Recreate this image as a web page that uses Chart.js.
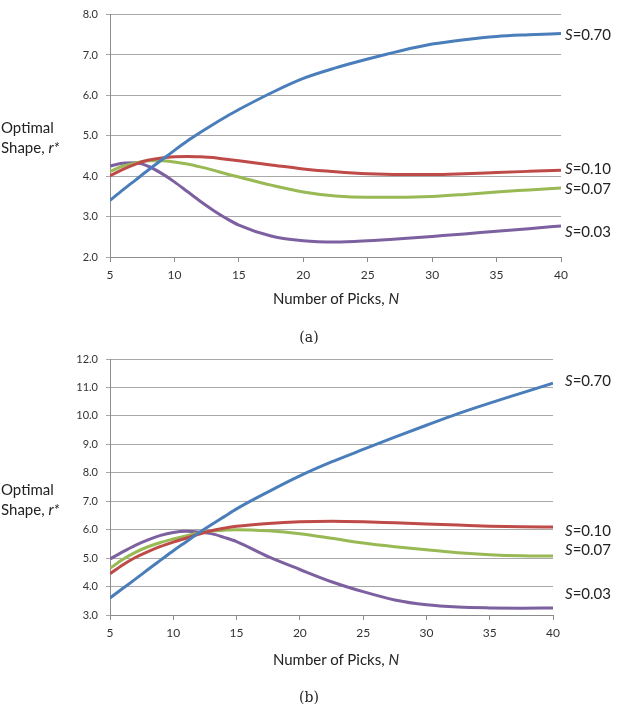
<!DOCTYPE html>
<html>
<head>
<meta charset="utf-8">
<script src="https://cdn.jsdelivr.net/npm/chart.js@4.4.0/dist/chart.umd.min.js"></script>
<style>
  html, body { margin: 0; padding: 0; background: #fff; }
  #wrap { position: relative; width: 618px; height: 711px; font-family: Lato, "Open Sans", sans-serif; color: #222; }
  canvas { position: absolute; left: 0; }
  .txt { position: absolute; font-size: 15px; line-height: 20px; white-space: nowrap; }
  .ytitle { left: 1px; }
  .xtitle { width: 300px; left: 186px; text-align: center; }
  .cap { width: 100px; left: 259px; text-align: center; font-family: "DejaVu Serif", "Liberation Serif", serif; font-size: 14px; }
  .slab { left: 565px; }
</style>
</head>
<body>
<div id="wrap">
  <canvas id="chartA" width="618" height="300" style="top:0"></canvas>
  <canvas id="chartB" width="618" height="320" style="top:340px"></canvas>

  <div class="txt ytitle" style="top:117px">Optimal<br>Shape, <i>r*</i></div>
  <div class="txt xtitle" style="top:288px">Number of Picks, <i>N</i></div>
  <div class="txt cap" style="top:327px">(a)</div>
  <div class="txt slab" style="top:24px"><i>S</i>=0.70</div>
  <div class="txt slab" style="top:158px"><i>S</i>=0.10</div>
  <div class="txt slab" style="top:178px"><i>S</i>=0.07</div>
  <div class="txt slab" style="top:221px"><i>S</i>=0.03</div>

  <div class="txt ytitle" style="top:479px">Optimal<br>Shape, <i>r*</i></div>
  <div class="txt xtitle" style="top:649px">Number of Picks, <i>N</i></div>
  <div class="txt cap" style="top:687px">(b)</div>
  <div class="txt slab" style="top:370px"><i>S</i>=0.70</div>
  <div class="txt slab" style="top:520px"><i>S</i>=0.10</div>
  <div class="txt slab" style="top:539px"><i>S</i>=0.07</div>
  <div class="txt slab" style="top:583px"><i>S</i>=0.03</div>
</div>

<script>
// number of picks N (shared by both panels)
const nValues = [5, 6, 7, 8, 9, 10, 11, 12, 13, 14, 15, 17.5, 20, 22.5, 25, 27.5, 30, 32.5, 35, 37.5, 40];
const xTicks = [5, 10, 15, 20, 25, 30, 35, 40];

// panel (a)
const a_S070 = [3.40, 3.66, 3.91, 4.16, 4.40, 4.64, 4.87, 5.08, 5.28, 5.47, 5.65, 6.06, 6.42, 6.68, 6.90, 7.10, 7.27, 7.38, 7.46, 7.50, 7.53];
const a_S010 = [4.01, 4.17, 4.30, 4.40, 4.45, 4.48, 4.49, 4.48, 4.46, 4.42, 4.38, 4.28, 4.18, 4.11, 4.06, 4.04, 4.04, 4.06, 4.09, 4.12, 4.15];
const a_S007 = [4.12, 4.25, 4.33, 4.38, 4.38, 4.35, 4.30, 4.23, 4.15, 4.06, 3.98, 3.78, 3.61, 3.51, 3.48, 3.48, 3.50, 3.55, 3.61, 3.66, 3.71];
const a_S003 = [4.25, 4.32, 4.33, 4.24, 4.07, 3.86, 3.62, 3.38, 3.16, 2.96, 2.79, 2.52, 2.40, 2.37, 2.40, 2.45, 2.51, 2.57, 2.64, 2.70, 2.77];
const a_yTicks = [2, 3, 4, 5, 6, 7, 8];

// panel (b)
const b_S070 = [3.60, 3.93, 4.26, 4.60, 4.93, 5.26, 5.57, 5.88, 6.17, 6.45, 6.73, 7.33, 7.89, 8.38, 8.82, 9.25, 9.67, 10.08, 10.45, 10.80, 11.15];
const b_S010 = [4.45, 4.76, 5.02, 5.23, 5.41, 5.56, 5.70, 5.84, 5.96, 6.05, 6.12, 6.22, 6.28, 6.30, 6.28, 6.24, 6.20, 6.16, 6.12, 6.10, 6.09];
const b_S007 = [4.64, 4.95, 5.20, 5.40, 5.55, 5.67, 5.78, 5.88, 5.95, 5.98, 6.00, 5.96, 5.86, 5.70, 5.53, 5.40, 5.29, 5.19, 5.12, 5.08, 5.07];
const b_S003 = [4.97, 5.22, 5.45, 5.64, 5.80, 5.90, 5.94, 5.92, 5.86, 5.73, 5.58, 5.05, 4.60, 4.17, 3.82, 3.53, 3.36, 3.28, 3.25, 3.24, 3.25];
const b_yTicks = [3, 4, 5, 6, 7, 8, 9, 10, 11, 12];

const colors = ["#4a7ebb", "#be4b48", "#98b954", "#7d60a0"];
const gridColor = "#a8a8a8";
const axisColor = "#8c8c8c";

function toPoints(ys) {
  return nValues.map((n, i) => ({ x: n, y: ys[i] }));
}

function makeChart(id, series, yTicks, padding) {
  new Chart(document.getElementById(id).getContext("2d"), {
    type: "line",
    data: {
      datasets: series.map((s, i) => ({
        data: toPoints(s),
        borderColor: colors[i],
        borderWidth: 3,
        pointRadius: 0,
        fill: false,
        cubicInterpolationMode: "monotone"
      }))
    },
    options: {
      responsive: false,
      animation: false,
      layout: { padding: padding },
      plugins: { legend: { display: false }, tooltip: { enabled: false } },
      scales: {
        x: {
          type: "linear",
          min: xTicks[0],
          max: xTicks[xTicks.length - 1],
          afterBuildTicks: (scale) => { scale.ticks = xTicks.map(v => ({ value: v })); },
          afterFit: (scale) => { scale.height = 30; },
          grid: { drawOnChartArea: false, drawTicks: true, tickLength: 5, color: axisColor },
          border: { display: true, color: axisColor, width: 1 },
          ticks: { padding: 6, color: "#333", font: { family: "Lato", size: 12 } }
        },
        y: {
          min: yTicks[0],
          max: yTicks[yTicks.length - 1],
          afterBuildTicks: (scale) => { scale.ticks = yTicks.map(v => ({ value: v })); },
          afterFit: (scale) => { scale.width = 40; },
          grid: { color: gridColor, tickLength: 4, lineWidth: 1 },
          border: { display: true, color: axisColor, width: 1 },
          ticks: { padding: 8, color: "#333", font: { family: "Lato", size: 11 }, callback: v => v.toFixed(1) }
        }
      }
    }
  });
}

makeChart("chartA", [a_S070, a_S010, a_S007, a_S003], a_yTicks, { left: 70, right: 57, top: 14, bottom: 13 });
makeChart("chartB", [b_S070, b_S010, b_S007, b_S003], b_yTicks, { left: 70, right: 65, top: 19, bottom: 15 });
</script>
</body>
</html>
